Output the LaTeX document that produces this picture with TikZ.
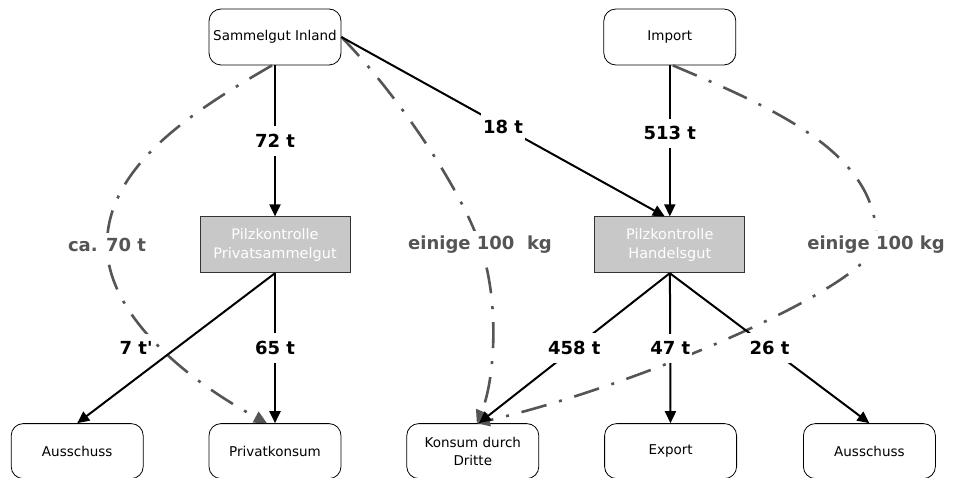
\documentclass[tikz,border=0pt]{standalone}
\usepackage{fontspec}
\setmainfont{DejaVu Sans}
\usetikzlibrary{arrows.meta, positioning}

\definecolor{flowgray}{RGB}{85,85,85}
\definecolor{checkfill}{RGB}{200,200,200}

\begin{document}
\begin{tikzpicture}[
        x=1pt, y=-1pt,
        endpoint/.style={rectangle, draw, rounded corners=12pt, minimum width=132pt, minimum height=56pt, align=center, font=\fontsize{13.5}{18}\selectfont, line width=0.8pt},
        check/.style={rectangle, draw=black!80, fill=checkfill, minimum width=150pt, minimum height=56pt, align=center, text=white, font=\fontsize{14.5}{19}\selectfont, line width=0.8pt},
        amount/.style={fill=white, inner xsep=2pt, inner ysep=8pt, font=\fontsize{18}{22}\selectfont\bfseries},
        estimate/.style={fill=white, inner xsep=2pt, inner ysep=5pt, text=flowgray, font=\fontsize{18}{22}\selectfont\bfseries},
        arrow/.style={-{Triangle[length=12pt, width=11pt]}, line width=2pt},
        leak/.style={-{Triangle[length=13pt, width=12pt]}, line width=2.6pt, draw=flowgray, dash pattern=on 26pt off 13pt on 3pt off 13pt}
    ]
        \useasboundingbox (0,0) rectangle (955,478);

        % 1. Sources
        \node (inland) [endpoint] at (275,37) {Sammelgut Inland};
        \node (import) [endpoint, right=262pt of inland] {Import};

        % 2. Control stations
        \node (privcheck) [check, below=151pt of inland] {Pilzkontrolle\\Privatsammelgut};
        \node (tradecheck) [check, below=151pt of import] {Pilzkontrolle\\Handelsgut};

        % 3. Sinks
        \node (privat) [endpoint, minimum height=55pt, below=150pt of privcheck] {Privatkonsum};
        \node (reject1) [endpoint, minimum height=55pt, left=65pt of privat] {Ausschuss};
        \node (konsum) [endpoint, minimum height=55pt, right=65pt of privat] {Konsum durch\\Dritte};
        \node (export) [endpoint, minimum height=55pt, right=65pt of konsum] {Export};
        \node (reject2) [endpoint, minimum height=55pt, right=66pt of export] {Ausschuss};

        % Uncontrolled flows
        \coordinate (c70) at (107,245);
        \coordinate (c100a) at (480,245);
        \coordinate (c100b) at (876,245);
        \draw [leak] ([xshift=-3pt]inland.south) .. controls (195,110) and (107,165) .. (c70) node[estimate] {ca. 70 t}
            .. controls (107,315) and (187,380) .. ([xshift=-8pt]privat.north);
        \draw [leak] (inland.east) .. controls (397,94) and (460,187) .. (c100a) node[estimate] {einige 100 \ kg}
            .. controls (500,300) and (495,380) .. ([xshift=4pt]konsum.north);
        \draw [leak] ([xshift=3pt]import.south) .. controls (773,108) and (882,154) .. (c100b) node[estimate] {einige 100 kg}
            .. controls (860,290) and (640,385) .. ([xshift=4pt]konsum.north);

        % Controlled flows
        \draw [arrow] (inland) -- node[amount] {72 t} (privcheck);
        \draw [arrow] (inland.east) -- node[amount] {18 t} ([xshift=-5pt]tradecheck.north);
        \draw [arrow] (import) -- node[amount, pos=0.45] {513 t} (tradecheck);

        \draw [arrow] (privcheck.south) -- node[amount, xshift=-40pt] {7 t\textquotesingle} (reject1.north);
        \draw [arrow] (privcheck) -- node[amount] {65 t} (privat);

        \draw [arrow] (tradecheck.south) -- node[amount] {458 t} ([xshift=6pt]konsum.north);
        \draw [arrow] (tradecheck) -- node[amount] {47 t} (export);
        \draw [arrow] (tradecheck.south) -- node[amount] {26 t} (reject2.north);
    \end{tikzpicture}
\end{document}
